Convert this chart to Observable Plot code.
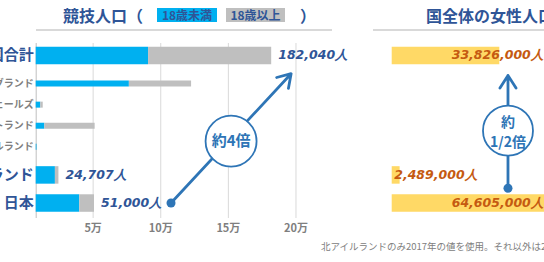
<!DOCTYPE html>
<html><head><meta charset="utf-8">
<script src="https://cdn.jsdelivr.net/npm/d3@7"></script>
<script src="https://cdn.jsdelivr.net/npm/@observablehq/plot@0.6"></script>
<style>
html,body{margin:0;padding:0;overflow:hidden;background:#fff;}
#wrap{position:relative;width:544px;height:262px;overflow:hidden;font-family:"Noto Sans CJK JP",sans-serif;}
#wrap svg{position:absolute;top:0;}
.t{position:absolute;white-space:nowrap;font-weight:bold;line-height:1;color:#2F5597;}
.hr{position:absolute;height:2px;background:#D9D9D9;}
.lg{position:absolute;height:14px;line-height:14px;font-size:12px;font-weight:bold;color:#2F5597;text-align:center;}
</style></head><body><div id="wrap"></div>
<script>
// ---- data ----
const categories = ["英国合計","イングランド","ウェールズ","スコットランド","北アイルランド","ニュージーランド","日本"];
const rowGroup   = ["main","sub","sub","sub","sub","main","main"];
const under18    = [91000, 76800, 11300, 14300, 8600, 22100, 40100];
const totals     = [182040, 122800, 13100, 51500, 8800, 24707, 51000];
const valueLabels = ["182,040人", null, null, null, null, "24,707人", "51,000人"];
const xTicks      = [50000, 100000, 150000, 200000];
const xTickLabels = ["5万","10万","15万","20万"];
const legendLabels = ["18歳未満","18歳以上"];
const femaleCountries = ["英国合計","ニュージーランド","日本"];
const femalePop       = [33826000, 2489000, 64605000];
const femaleLabels    = ["33,826,000人","2,489,000人","64,605,000人"];
const ratioLabels = ["約4倍", "約\n1/2倍"];
const footnote = "北アイルランドのみ2017年の値を使用。それ以外は2018年の値を使用。";

// row layout derived from grouping (sub rows packed closer)
const pos = [];
categories.forEach((c,i)=>{ pos.push(i===0?0:pos[i-1] + ((rowGroup[i]==="sub"&&rowGroup[i-1]==="sub")?3:4)); });
const posOf = c => pos[categories.indexOf(c)];
const rows = categories.map((c,i)=>({c, g: rowGroup[i], pos: pos[i], u: under18[i], t: totals[i], label: valueLabels[i]}));
const fem = femaleCountries.map((c,i)=>({c, pos: posOf(c), v: femalePop[i], label: femaleLabels[i]}));

// annotations (data coordinates)
const arrowL = {x1: 107600, y1: posOf("日本"), x2: 196400, y2: 2.6};
const circleL = {x: 152000, y: 12.2, text: ratioLabels[0]};
const arrowR = {x: 36400000, y1: 18.9, y2: 2.85};
const circleR = {x: 36400000, y: 10.7, text: ratioLabels[1]};

const X0 = 7900;
const NAVY = "#2F5597", ARROW = "#2E75B6";
const yScale = {domain: [-1.7, 23.2], reverse: true, axis: null};
const numFont = "DejaVu Sans";

const left = Plot.plot({
  width: 360, height: 262, marginLeft: 35.7, marginRight: 51, marginTop: 43, marginBottom: 44,
  x: {domain: [X0, 210000], axis: null},
  y: yScale,
  style: {background: "transparent", fontFamily: "Noto Sans CJK JP"},
  marks: [
    Plot.ruleX(xTicks, {x: d=>d, stroke: "#D9D9D9", strokeWidth: 1}),
    Plot.ruleX([X0], {x: d=>d, stroke: "#BFBFBF", strokeWidth: 1}),
    Plot.ruleY(rows.filter(d=>d.g==="main"), {y: "pos", x1: d=>X0, x2: "u", stroke: "#00B0F0", strokeWidth: 17.5}),
    Plot.ruleY(rows.filter(d=>d.g==="main"), {y: "pos", x1: "u", x2: "t", stroke: "#BFBFBF", strokeWidth: 17.5}),
    Plot.ruleY(rows.filter(d=>d.g==="sub"), {y: "pos", x1: d=>X0, x2: d=>Math.max(X0,d.u), stroke: "#00B0F0", strokeWidth: 6}),
    Plot.ruleY(rows.filter(d=>d.g==="sub"), {y: "pos", x1: d=>Math.max(X0,d.u), x2: d=>Math.max(X0,d.t), stroke: "#BFBFBF", strokeWidth: 6}),
    Plot.text(rows.filter(d=>d.g==="main"), {y: "pos", text: "c", frameAnchor: "left", textAnchor: "end", dx: -2.5, fill: NAVY, fontSize: 15, fontWeight: "bold"}),
    Plot.text(rows.filter(d=>d.g==="sub"), {y: "pos", text: "c", frameAnchor: "left", textAnchor: "end", dx: -2.5, fill: "#7F7F7F", fontSize: 10, fontWeight: "bold"}),
    Plot.text(rows.filter(d=>d.label), {x: "t", y: "pos", text: "label", textAnchor: "start", dx: 6.5, fill: NAVY, fontSize: 12.5, fontWeight: "bold", fontStyle: "italic", fontFamily: numFont}),
    Plot.text(xTicks, {x: d=>d, text: d=>xTickLabels[xTicks.indexOf(d)], frameAnchor: "bottom", dy: 13, fill: "#7F7F7F", fontSize: 11, fontWeight: "bold"}),
    Plot.arrow([arrowL], {x1: "x1", y1: "y1", x2: "x2", y2: "y2", stroke: ARROW, strokeWidth: 2.8, headLength: 8, headAngle: 65}),
    Plot.dot([arrowL], {x: "x1", y: "y1", r: 4.5, fill: ARROW}),
    Plot.dot([circleL], {x: "x", y: "y", r: 25.5, fill: "white", stroke: ARROW, strokeWidth: 1.8}),
    Plot.text([circleL], {x: "x", y: "y", text: "text", fill: ARROW, fontSize: 15, fontWeight: "bold"})
  ]
});

const right = Plot.plot({
  width: 184, height: 262, marginLeft: 31.7, marginRight: 44.7, marginTop: 43, marginBottom: 44,
  x: {domain: [0, femalePop[0]], axis: null},
  y: yScale,
  style: {background: "transparent", fontFamily: "Noto Sans CJK JP", overflow: "hidden"},
  marks: [
    Plot.ruleY(fem, {y: "pos", x1: d=>0, x2: "v", stroke: "#FFD966", strokeWidth: 17.5}),
    Plot.text(fem.filter(d=>d.v > femalePop[1]), {y: "pos", text: "label", frameAnchor: "right", textAnchor: "end", dx: 44, fill: "#C55A11", fontSize: 12.5, fontWeight: "bold", fontStyle: "italic", fontFamily: numFont}),
    Plot.text(fem.filter(d=>d.v <= femalePop[1]), {y: "pos", text: "label", frameAnchor: "left", textAnchor: "start", dx: 2, fill: "#C55A11", fontSize: 12.5, fontWeight: "bold", fontStyle: "italic", fontFamily: numFont}),
    Plot.arrow([arrowR], {x1: "x", y1: "y1", x2: "x", y2: "y2", stroke: ARROW, strokeWidth: 2.8, headLength: 8, headAngle: 65}),
    Plot.dot([arrowR], {x: "x", y: "y1", r: 4.5, fill: ARROW}),
    Plot.dot([circleR], {x: "x", y: "y", r: 25, fill: "white", stroke: ARROW, strokeWidth: 1.8}),
    Plot.text([circleR], {x: "x", y: "y", text: "text", fill: ARROW, fontSize: 14, fontWeight: "bold", lineHeight: 1.45})
  ]
});

const wrap = document.getElementById("wrap");
left.style.left = "0px";
right.style.left = "360px";
wrap.appendChild(left);
wrap.appendChild(right);

function add(cls, txt, css){ const e=document.createElement("div"); e.className=cls; if(txt) e.textContent=txt; Object.assign(e.style, css); wrap.appendChild(e); return e; }
add("t", "競技人口（", {left: "63px", top: "7px", fontSize: "16px"});
add("lg", legendLabels[0], {left: "157px", top: "8px", width: "60px", background: "#00B0F0"});
add("lg", legendLabels[1], {left: "226px", top: "8px", width: "59px", background: "#BFBFBF"});
add("t", "）", {left: "300px", top: "7px", fontSize: "16px"});
add("hr", "", {left: "36px", top: "28.5px", width: "296px"});
add("t", "国全体の女性人口", {left: "426px", top: "7px", fontSize: "16px"});
add("hr", "", {left: "373px", top: "28.5px", width: "171px"});
add("t", footnote, {left: "321px", top: "242px", fontSize: "9.5px", fontWeight: "normal", color: "#808080"});
</script></body></html>
